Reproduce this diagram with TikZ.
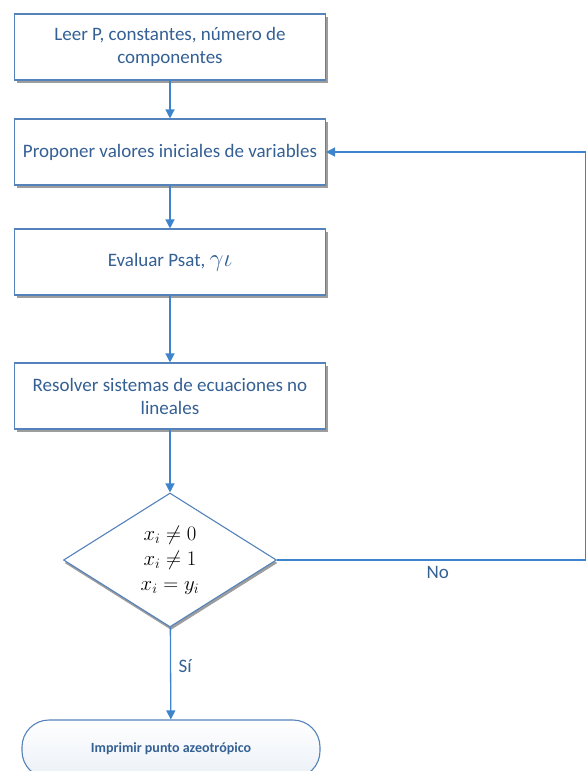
\documentclass[tikz,border=0pt]{standalone}
\usepackage{amsmath}
\usepackage{fontspec}
\setmainfont{Carlito}
\usepackage{tikz}
\usetikzlibrary{shapes.geometric,arrows.meta,shadows,calc}
\definecolor{boxblue}{RGB}{84,130,186}
\definecolor{textblue}{RGB}{52,96,148}
\definecolor{arrowblue}{RGB}{62,132,204}

\begin{document}
\begin{tikzpicture}[
    x=1pt,y=-1pt,
    process/.style={rectangle,draw=boxblue,line width=1.1pt,fill=white,
                    minimum width=311pt,minimum height=66pt,align=center,
                    text=textblue,font=\fontsize{19}{23}\selectfont,
                    drop shadow={shadow xshift=2.5pt,shadow yshift=-3pt,
                                 fill=black!70,opacity=.55}},
    decision/.style={diamond,draw=boxblue,line width=1.1pt,fill=white,
                     minimum width=213pt,minimum height=134pt,inner sep=0pt,
                     align=center,font=\fontsize{20}{25}\selectfont,
                     drop shadow={shadow xshift=1pt,shadow yshift=-3pt,
                                  fill=black!70,opacity=.55}},
    terminal/.style={rectangle,rounded corners=27pt,draw=boxblue,line width=1.1pt,
                     top color=white,bottom color=boxblue!12,
                     minimum width=298pt,minimum height=58pt,
                     text=textblue,font=\fontsize{14}{16}\selectfont\bfseries},
    flow/.style={draw=arrowblue,line width=1.3pt,-{Triangle[length=9pt,width=9pt]}},
    plain/.style={draw=arrowblue,line width=1.3pt},
    lbl/.style={text=textblue,font=\fontsize{19}{21}\selectfont},
  ]
  \useasboundingbox (0,0) rectangle (586,771);
  \clip (0,0) rectangle (586,771);

  % ---------------------------------------------------------------- steps
  \node[process] (leer) at (170,47)  {Leer P, constantes, número de\\componentes};
  \node[process] (prop) at (170,152) {Proponer valores iniciales de variables};
  \node[process] (eval) at (170,262) {Evaluar Psat, {\fontsize{23}{23}\selectfont$\gamma\iota$}};
  \node[process] (resv) at (170,396) {Resolver sistemas de ecuaciones no\\lineales};

  % ---------------------------------------------------------------- test
  \node[decision] (test) at (170,560)
    {$x_i\neq 0$\\$x_i\neq 1$\\$x_i=y_i$};

  \node[terminal] (fin) at (171,749) {Imprimir punto azeotrópico};

  % ---------------------------------------------------------------- arrows
  \draw[flow] (leer) -- (prop);
  \draw[flow] (prop) -- (eval);
  \draw[flow] (eval) -- (resv);
  \draw[flow] (resv) -- (test);
  \draw[flow] (test) -- (fin) node[pos=0.42,right=4pt,lbl] {Sí};

  % loop back when the test fails
  \coordinate (ret) at (586,560);
  \draw[plain] (test.east) -- (ret) node[pos=0.52,below=2pt,lbl] {No};
  \draw[flow] (ret) |- (prop.east);
\end{tikzpicture}
\end{document}
